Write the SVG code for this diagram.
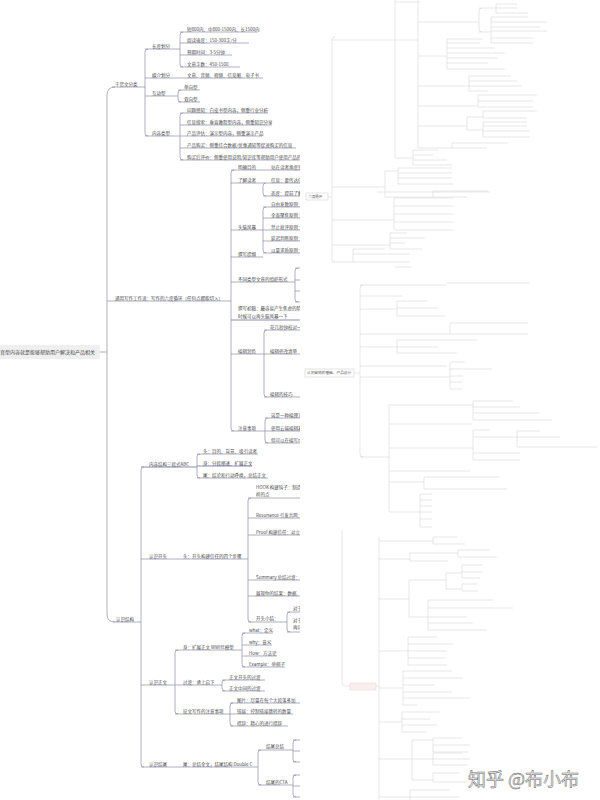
<svg xmlns="http://www.w3.org/2000/svg" width="600" height="800" viewBox="0 0 600 800">
<style>
.t{font-family:"Noto Sans CJK SC","Noto Sans",sans-serif;font-size:4.5px;fill:#4a4a4a}
.l{fill:none;stroke:#8c8cab;stroke-width:0.7}
.d{stroke:#5a5a92}
.r{fill:none;stroke:#cdcdcd;stroke-width:0.5}
</style>
<rect width="600" height="800" fill="#fff"/>

<g id="root">
<rect x="-2" y="345" width="102" height="14" fill="#efefef"/>
<text class="t" x="0" y="353.8" style="font-size:5px">育型内容就是能够帮助用户解决和产品相关</text>
</g>

<g id="n-ganhuo"><text class="t" x="115" y="85.6">干货文分类</text><path class="l" d="M112,87H145"/></g>
<g id="n-changdu"><text class="t" x="152" y="47.6">长度划分</text><path class="l" d="M145,49H180"/></g>
<g id="n-c1"><text class="t" x="187" y="30.6">短800内、中800-1500内、长1500内</text><path class="l" d="M180,32H258"/></g>
<g id="n-c2"><text class="t" x="187" y="41.6">阅读速度：150-300字/分</text><path class="l" d="M180,43H249"/></g>
<g id="n-c3"><text class="t" x="187" y="53.6">预期时间：3-5分钟</text><path class="l" d="M180,55H232"/></g>
<g id="n-c4"><text class="t" x="187" y="65.6">文章字数：450-1500</text><path class="l" d="M180,67H240"/></g>
<g id="n-meijie"><text class="t" x="152" y="76.6">媒介划分</text><text class="t" x="187" y="76.6">文章、音频、视频、信息图、电子书</text><path class="l" d="M145,78H263"/></g>
<g id="n-hudong"><text class="t" x="152" y="94.6">互动型</text><path class="l" d="M145,96H178"/></g>
<g id="n-h1"><text class="t" x="184" y="88.6">单向型</text><path class="l" d="M178,90H200"/></g>
<g id="n-h2"><text class="t" x="184" y="100.6">双向型</text><path class="l" d="M178,102H200"/></g>
<g id="n-neirong"><text class="t" x="152" y="134.6">内容类型</text><path class="l" d="M145,136H180"/></g>
<g id="n-n1"><text class="t" x="187" y="111.6">问题感知：白皮书型内容，侧重行业分析</text><path class="l" d="M180,113H268"/></g>
<g id="n-n2"><text class="t" x="187" y="123.6">信息搜索：垂直教程型内容，侧重知识分享</text><path class="l" d="M180,125H272"/></g>
<g id="n-n3"><text class="t" x="187" y="134.6">产品评估：演示型内容，侧重演示产品</text><path class="l" d="M180,136H262"/></g>
<g id="n-n4"><text class="t" x="187" y="146.6">产品购买：侧重综合数据/优惠通知等促进购买的信息</text><path class="l" d="M180,148H296"/></g>
<g id="n-n5"><text class="t" x="187" y="158.6">购买后评价：侧重使用说明/知识库等帮助用户使用产品的</text><path class="l" d="M180,160H302"/></g>

<g id="n-tongyong"><text class="t" x="115" y="299.6">通用写作工作流：写作的六度循环（任何点都能切入）</text><path class="l" d="M107,301H231"/></g>
<g id="n-mudi"><text class="t" x="238" y="168.6">明确目的</text><text class="t" x="271" y="168.6">站在读者角度思考</text><path class="l" d="M231,170H305"/></g>
<g id="n-duzhe"><text class="t" x="238" y="181.6">了解读者</text><path class="l" d="M231,183H263"/></g>
<g id="n-d1"><text class="t" x="271" y="181.6">信息：要传达信息</text><path class="l" d="M263,183H305"/></g>
<g id="n-d2"><text class="t" x="271" y="194.6">态度：提前了解读</text><path class="l" d="M263,196H305"/></g>
<g id="n-fengbao"><text class="t" x="238" y="228.6">头脑风暴</text><path class="l" d="M231,230H263"/></g>
<g id="n-f1"><text class="t" x="271" y="205.6">自由发散原则：</text><path class="l" d="M263,207H305"/></g>
<g id="n-f2"><text class="t" x="271" y="216.6">全面聚焦原则：</text><path class="l" d="M263,218H305"/></g>
<g id="n-f3"><text class="t" x="271" y="228.6">禁止批评原则：</text><path class="l" d="M263,230H305"/></g>
<g id="n-f4"><text class="t" x="271" y="239.6">延迟判断原则：</text><path class="l" d="M263,241H305"/></g>
<g id="n-f5"><text class="t" x="271" y="251.6">以量求质原则：</text><path class="l" d="M263,253H305"/></g>
<g id="n-tigang"><text class="t" x="238" y="255.6">撰写提纲</text><path class="l" d="M231,257H263"/></g>
<g id="n-zuzhi"><text class="t" x="238" y="280.6">不同类型文章的组织形式</text><path class="l" d="M231,282H295"/></g>
<g id="n-chugao"><text class="t" x="238" y="309.6">撰写初稿：最容易产生焦虑的阶段</text><text class="t" x="238" y="317.6">时候可以再头脑风暴一下</text><path class="l d" d="M231,320H305"/></g>
<g id="n-runse"><text class="t" x="238" y="352.6">编辑润色</text><path class="l" d="M231,354H264"/></g>
<g id="n-r1"><text class="t" x="270" y="328.6">花几秒钟校对一下</text><path class="l" d="M264,330H305"/></g>
<g id="n-r2"><text class="t" x="270" y="352.6">编辑修改清单</text><path class="l" d="M264,354H305"/></g>
<g id="n-r3"><text class="t" x="270" y="395.6">编辑的技巧</text><path class="l" d="M264,397H305"/></g>
<g id="n-zhuyi"><text class="t" x="238" y="429.6">注意事项</text><path class="l" d="M231,431H265"/></g>
<g id="n-z1"><text class="t" x="271" y="416.6">这是一种编理方</text><path class="l" d="M265,418H305"/></g>
<g id="n-z2"><text class="t" x="271" y="429.6">使用云端编辑器</text><path class="l" d="M265,431H305"/></g>
<g id="n-z3"><text class="t" x="271" y="441.6">但可以在编写中</text><path class="l" d="M265,443H305"/></g>

<g id="n-jiegou"><text class="t" x="116" y="620.6">认识结构</text><path class="l" d="M113,622H141"/></g>
<g id="n-abc"><text class="t" x="149" y="465.6">内容结构三段式ABC</text><path class="l d" d="M141,467H197"/></g>
<g id="n-a1"><text class="t" x="203" y="452.6">头：目的、背景、吸引读者</text><path class="l" d="M197,454H258"/></g>
<g id="n-a2"><text class="t" x="203" y="464.6">身：分段阐述、扩展正文</text><path class="l d" d="M197,466H252"/></g>
<g id="n-a3"><text class="t" x="203" y="476.6">尾：结论和行动呼唤，总结正文</text><path class="l" d="M197,478H268"/></g>
<g id="n-kaitou"><text class="t" x="149" y="557.6">认识开头</text><text class="t" x="183" y="557.6">头：开头构建信任的四个步骤</text><path class="l" d="M141,559H248"/></g>
<g id="n-k1"><text class="t" x="256" y="488.6">HOOK 构建钩子：制造</text><text class="t" x="256" y="495.6">样的点</text><path class="l" d="M248,498H305"/></g>
<g id="n-k2"><text class="t" x="256" y="516.6">Resonance 引发共鸣：</text><path class="l" d="M248,518H305"/></g>
<g id="n-k3"><text class="t" x="256" y="533.6">Proof 构建信任：对立</text><path class="l" d="M248,535H305"/></g>
<g id="n-k4"><text class="t" x="256" y="578.6">Summary 总结过渡：总</text><path class="l" d="M248,580H305"/></g>
<g id="n-k5"><text class="t" x="256" y="594.6">展现你的结果：数据,</text><path class="l" d="M248,596H305"/></g>
<g id="n-k6"><text class="t" x="256" y="619.6">开头小结：</text><path class="l" d="M248,622H287"/></g>
<g id="n-k61"><text class="t" x="293" y="609.6">对于</text><path class="l" d="M287,612H305"/></g>
<g id="n-k62"><text class="t" x="293" y="621.6">对于</text><text class="t" x="293" y="628.6">再问</text><path class="l" d="M287,632H305"/></g>
<g id="n-zhengwen"><text class="t" x="149" y="683.6">认识正文</text><path class="l" d="M141,685H175"/></g>
<g id="n-wwhe"><text class="t" x="183" y="648.6">身：扩展正文 WWHE模型</text><path class="l" d="M175,650H242"/></g>
<g id="n-w1"><text class="t" x="249" y="631.6">what：定义</text><path class="l" d="M242,633H273"/></g>
<g id="n-w2"><text class="t" x="249" y="643.6">why：意义</text><path class="l" d="M242,645H272"/></g>
<g id="n-w3"><text class="t" x="249" y="654.6">How：方法论</text><path class="l" d="M242,656H277"/></g>
<g id="n-w4"><text class="t" x="249" y="665.6">Example：举例子</text><path class="l" d="M242,667H285"/></g>
<g id="n-guodu"><text class="t" x="183" y="683.6">过渡：承上启下</text><path class="l" d="M175,685H222"/></g>
<g id="n-g1"><text class="t" x="229" y="678.6">正文开头的过渡</text><path class="l" d="M222,680H265"/></g>
<g id="n-g2"><text class="t" x="229" y="689.6">正文中间的过渡</text><path class="l" d="M222,691H265"/></g>
<g id="n-zhuyi2"><text class="t" x="183" y="712.6">征文写作的注意事项</text><path class="l" d="M175,714H230"/></g>
<g id="n-y1"><text class="t" x="237" y="701.6">图片：尽量在每个大段落多加</text><path class="l" d="M230,703H305"/></g>
<g id="n-y2"><text class="t" x="237" y="712.6">链接：控制链接跳转的数量</text><path class="l" d="M230,714H293"/></g>
<g id="n-y3"><text class="t" x="237" y="724.6">措辞：精心的进行措辞</text><path class="l" d="M230,726H288"/></g>
<g id="n-jiewei"><text class="t" x="149" y="765.6">认识结尾</text><text class="t" x="183" y="765.6">尾：总结全文，结尾结构 Double C</text><path class="l" d="M141,767H258"/></g>
<g id="n-j1"><text class="t" x="266" y="747.6">结尾总结</text><path class="l" d="M258,750H293"/></g>
<g id="n-j2"><text class="t" x="266" y="783.6">结尾的CTA</text><path class="l" d="M258,785H293"/></g>

<g id="connectors">
<path class="l" d="M100,352H107"/>
<path class="l" d="M115,87Q107,87 107,95V614Q107,622 115,622"/>
<path class="l" d="M148,49Q145,49 145,52V133Q145,136 148,136"/>
<path class="l" d="M183,32Q180,32 180,35V64Q180,67 183,67"/>
<path class="l" d="M181,90Q178,90 178,93V99Q178,102 181,102"/>
<path class="l" d="M183,113Q180,113 180,116V157Q180,160 183,160"/>
<path class="l" d="M234,170Q231,170 231,173V428Q231,431 234,431"/>
<path class="l" d="M266,183Q263,183 263,186V193Q263,196 266,196"/>
<path class="l" d="M266,207Q263,207 263,210V250Q263,253 266,253"/>
<path class="l" d="M298,268Q295,268 295,271V299Q295,302 298,302M295,268H305M295,280H305M295,291H305M295,302H305"/>
<path class="l" d="M267,330Q264,330 264,333V394Q264,397 267,397"/>
<path class="l" d="M268,418Q265,418 265,421V440Q265,443 268,443"/>
<path class="l" d="M144,467Q141,467 141,470V764Q141,767 144,767"/>
<path class="l" d="M200,454Q197,454 197,457V475Q197,478 200,478"/>
<path class="l" d="M251,498Q248,498 248,501V619Q248,622 251,622"/>
<path class="l" d="M290,612Q287,612 287,615V629Q287,632 290,632"/>
<path class="l" d="M178,650Q175,650 175,653V711Q175,714 178,714"/>
<path class="l" d="M245,633Q242,633 242,636V664Q242,667 245,667"/>
<path class="l" d="M225,680Q222,680 222,683V688Q222,691 225,691"/>
<path class="l" d="M233,703Q230,703 230,706V723Q230,726 233,726"/>
<path class="l" d="M261,750Q258,750 258,753V782Q258,785 261,785"/>
<path class="l" d="M296,740Q293,740 293,743V759Q293,762 296,762M293,740H305M293,751H305M293,762H305"/>
<path class="l" d="M296,775Q293,775 293,778V794Q293,797 296,797M293,775H305M293,786H305M293,797H305"/>
</g>

<rect x="300" y="150" width="300" height="650" fill="#fff"/>

<g id="right-top-map">
<path class="r" d="M335,37Q332,37 332,40V259Q332,262 335,262
M332,40H395M395,0V157M395,2H420M395,40H418
M418,0V148M418,22H478M418,56H447M418,86H469M418,106H478M418,126H467M418,148H452
M478,22H479M482,8Q479,8 479,11V29Q479,32 482,32M479,8H496M496,4V13M496,4H517M496,8H517M496,13H528
M479,32H491M491,17V43M491,17H528M491,22H547M491,27H540M491,31H547M491,38H533M491,43H533
M447,39V69M447,39H483M447,43H480M447,48H495M447,53H505M447,58H498M447,63H488M447,69H505
M469,76V91M469,76H511M469,81H517M469,86H522M469,91H488
M478,95V107M478,95H537M478,101H533M478,107H533
M467,117V130M467,117H483M483,111V118M483,111H537M483,118H527M467,130H483M483,122V137M483,122H527M483,126H527M483,131H530M483,137H530
M452,143V148M452,143H508M452,148H487
M395,158H413M413,150V165M413,150H438M413,155H433M413,160H447M413,165H452
M332,187H385M385,171V197M385,171H398M398,168V184M398,168H452M398,173H452M398,178H452M398,184H453M385,197H433M433,191V197M433,191H488M433,197H467
M377,192H490
M328,197H332
M332,220H394M394,198V230M394,198H453M394,206H453M394,214H453M394,222H453M394,230H453
M332,245H390M390,233V249M390,233H407M390,238H425M390,243H405M390,249H422
M332,262H353M353,249V262M353,249H385M353,254H410M353,262H410M395,267H412"/>
<rect x="306" y="193" width="22" height="7" fill="#fff" stroke="#bbb" stroke-width="0.4"/>
<text x="308.5" y="197.8" style="font-family:'Noto Sans CJK SC',sans-serif;font-size:3.4px;fill:#666">六度循环</text>
</g>

<g id="right-mid-map">
<rect x="305" y="369" width="49" height="8" fill="#fff" stroke="#bbb" stroke-width="0.4"/>
<text x="307" y="374.3" style="font-family:'Noto Sans CJK SC',sans-serif;font-size:3.7px;fill:#555">认识营销的基础、产品设计</text>
<path class="r" d="M354,373H360M363,285Q360,285 360,288V454Q360,457 363,457
M360,285H447M447,283H530
M360,296H402
M360,309H397M397,301V316M397,301H428M397,308H438M397,316H445
M360,334H450M450,323V334M450,323H528M450,334H528
M360,347H397M397,340V353M397,340H477M397,347H438M397,353H457
M360,366H447
M360,377H450M450,362V389M450,362H465M450,369H492M450,376H463M450,382H462M450,389H462
M360,457H389M389,405V512
M389,405H473M473,401V420M473,401H513M473,407H520M473,413H540M473,420H552
M389,424H472
M389,448H473M473,430V460M473,430H490M473,437H517M473,453H520M473,460H520M517,431V447M517,431H540M517,437H560M517,447H597
M389,471H470
M389,482H424M424,477V489M424,477H500M424,489H507
M389,512H420M420,494V527M420,494H432M420,500H432M420,506H432M420,512H432M420,519H432M420,527H432"/>
</g>

<g id="right-bottom-map">
<path class="r" d="M342,530V682Q342,686 346,686H350
M376,686H379M379,537V800
M379,541H433M433,537V544M433,537H457M433,544H465
M379,559H410M410,553V561M410,553H458M410,561H448M458,550V557M458,550H490M458,557H497
M379,599H409M409,580V617M409,580H446M446,573V589M446,573H462M462,565V578M462,565H483M462,572H483M462,578H480M446,589H462M462,584V591M462,584H477M462,591H478
M409,617H428M428,600V630M428,600H493M428,608H513M428,617H467M428,623H473M428,630H487
M379,651H408M408,637V665M408,637H437M408,644H453M408,651H447M408,658H445M408,665H447
M379,688H403M403,671V705M403,671H452M403,678H463M403,685H435M403,692H452M403,698H470M403,705H417
M379,722H402M402,712V732M402,712H440M402,719H430M402,725H437M402,732H427
M379,759H412M412,740V780M412,740H433M433,738V752M433,738H462M433,745H470M433,752H468M412,759H433M433,753V765M433,753H462M433,759H470M433,765H468M412,780H433M433,773V782M433,773H460M433,782H470
M379,797H410M410,790V800M410,790H450M410,797H460"/>
<rect x="350" y="683" width="26" height="7" fill="#fbeeee" stroke="#e6c9c9" stroke-width="0.4"/>
</g>

<g id="watermark">
<text x="468" y="786" style="font-family:'Noto Sans CJK SC',sans-serif;font-size:18px;fill:#eeeeee;stroke:#6a6a6a;stroke-width:0.5">知乎 @布小布</text>
</g>
</svg>
